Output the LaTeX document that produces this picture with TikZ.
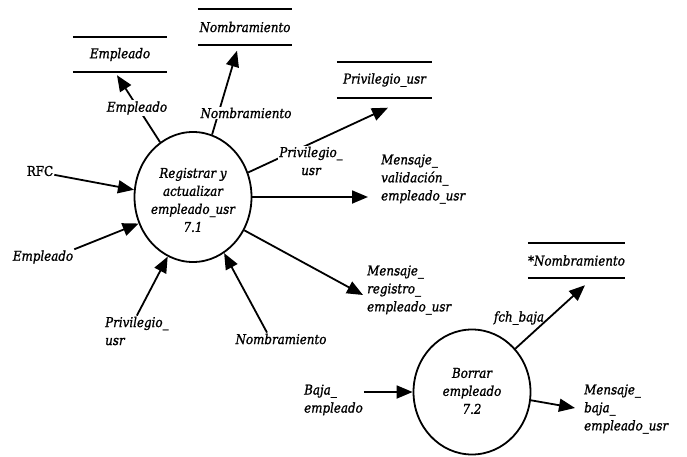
\documentclass[tikz,border=0pt]{standalone}
\usepackage{fontspec}
\setmainfont{DejaVu Serif}[FakeStretch=0.88, FakeBold=1.2]
\usetikzlibrary{arrows.meta,shapes.geometric,calc}
\begin{document}
\begin{tikzpicture}[x=1pt,y=-1pt,
  tfont/.style={font=\fontsize{13.5}{18}\selectfont\itshape},
  lbl/.style={tfont, align=left, inner sep=1pt},
  clbl/.style={lbl, align=center},
  proc/.style={ellipse, draw, line width=1.8pt, inner sep=0pt},
  ptext/.style={tfont, align=center, inner sep=0pt},
  store/.style={minimum width=94pt, minimum height=35pt, inner sep=0pt, tfont},
  storeline/.style={line width=2.2pt},
  flow/.style={line width=1.8pt, -{Triangle[length=16pt,width=13pt]}}
]
\useasboundingbox (0,0) rectangle (687,457);

% processes
\node[proc, minimum width=117pt, minimum height=130pt] (p71) at (193,197) {};
\node[ptext] (t71) at (193,200) {Registrar y\\actualizar\\empleado\_usr\\7.1};
\node[proc, minimum width=117pt, minimum height=125pt] (p72) at (472,392) {};
\node[ptext] (t72) at (472,391) {Borrar\\empleado\\7.2};

% data stores
\node[store] (dsEmp) at (120,54.5) {Empleado};
\node[store] (dsNom) at (245,27) {Nombramiento};
\node[store, minimum width=95pt] (dsPriv) at (384.5,80) {Privilegio\_usr};
\node[store, minimum width=93pt] (dsNom2) at (576.5,260.5) {*Nombramiento};
\foreach \s in {dsEmp,dsNom,dsPriv,dsNom2}{
  \draw[storeline] (\s.north west) -- (\s.north east);
  \draw[storeline] (\s.south west) -- (\s.south east);
}

% external labels
\node[lbl, font=\fontsize{13.5}{18}\selectfont\upshape] (rfc) at (40,171) {RFC};
\node[lbl] (empIn) at (43,257) {Empleado};
\node[lbl, anchor=west] (privIn) at (104,331) {Privilegio\_\\usr};
\node[lbl] (nomIn) at (281,339) {Nombramiento};
\node[lbl, anchor=west] (bajaIn) at (303,400) {Baja\_\\empleado};
\node[lbl, anchor=west] (mVal) at (380,179) {Mensaje\_\\validación\_\\empleado\_usr};
\node[lbl, anchor=west] (mReg) at (366,290) {Mensaje\_\\registro\_\\empleado\_usr};
\node[lbl, anchor=west] (mBaja) at (583,409) {Mensaje\_\\baja\_\\empleado\_usr};

% connectors
\draw[flow] (p71.121) -- ($(dsEmp.south)+(-3,3)$);
\draw[flow] (p71.73) -- ($(dsNom.south)+(-8,6)$);
\draw[flow] (p71.24) -- ($(dsPriv.south)+(3.5,10)$);
\draw[flow] (p71.0) -- ($(p71.0 -| mVal.west)+(-12,0)$);
\draw[flow] (p71.-33) -- ($(mReg.west)+(-3,5)$);
\draw[flow] (rfc.-15) -- (p71.173);
\draw[flow] (empIn.north east) -- (p71.206);
\draw[flow] (privIn.north) -- (p71.247);
\draw[flow] ($(nomIn.north)+(-14,0)$) -- (p71.-61);
\draw[flow] (bajaIn.east |- p72.180) -- (p72.180);
\draw[flow] (p72.45) -- ($(dsNom2.south)+(8.5,7)$);
\draw[flow] (p72.-8) -- ($(mBaja.west)+(-8,-1)$);

% connector labels
\node[lbl, fill=white] (lEmp) at (137,108) {Empleado};
\node[lbl, fill=white] (lNom) at (246,113) {Nombramiento};
\node[clbl, fill=white] (lPriv) at (311,161) {Privilegio\_\\usr};
\node[lbl] (lFch) at (519,318) {fch\_baja};
\end{tikzpicture}
\end{document}
